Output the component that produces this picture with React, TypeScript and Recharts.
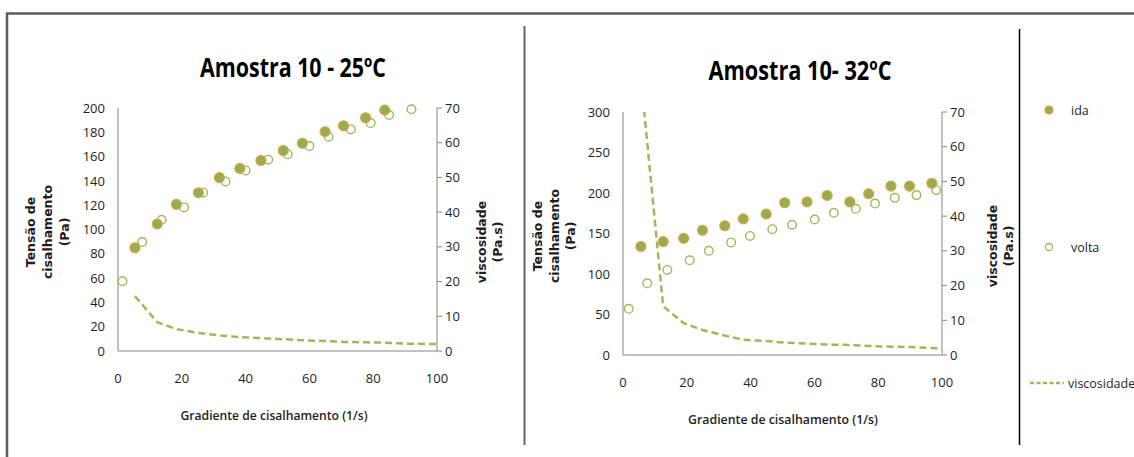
import { Scatter, ScatterChart, XAxis, YAxis } from 'recharts'

// Amostra 10 - 25ºC
const idaX25 = [5.3, 12.3, 18.3, 25.2, 31.8, 38.2, 44.8, 51.8, 57.8, 64.9, 70.7, 77.6, 83.6]
const idaY25 = [85, 104.5, 120.7, 130.3, 142.7, 150.3, 156.8, 165, 171, 180.5, 185.4, 192, 198.3]
const voltaX25 = [1.4, 7.6, 13.7, 20.7, 26.7, 33.7, 40, 47.1, 53.2, 60, 66, 73, 79.2, 85, 92]
const voltaY25 = [57.4, 89.7, 108, 118.2, 130.5, 139.6, 148.6, 157.5, 161.9, 168.7, 176.4, 182.4, 187.6, 194.2, 198.9]
const viscX25 = [5.3, 12.3, 18.3, 25.2, 31.8, 38.2, 44.8, 51.8, 57.8, 64.9, 70.7, 77.6, 83.6, 90, 100]
const viscY25 = [15.8, 8.3, 6.3, 5.2, 4.5, 4.0, 3.7, 3.4, 3.1, 2.9, 2.6, 2.5, 2.4, 2.1, 2.0]

// Amostra 10 - 32ºC
const idaX32 = [5.6, 12.6, 19, 24.9, 31.9, 37.7, 44.9, 50.7, 57.7, 64, 71.1, 77, 84, 89.8, 96.8]
const idaY32 = [134, 140, 144, 154, 159.5, 168, 174, 188, 189, 197, 189, 199, 208.5, 208.5, 212]
const voltaX32 = [1.8, 7.6, 13.9, 20.9, 26.9, 33.9, 39.8, 46.8, 53, 60.1, 66.1, 73, 79, 85.2, 92, 98.2]
const voltaY32 = [57, 88.5, 105, 117, 128.6, 139, 147, 155.3, 160.7, 167.3, 175.6, 180.5, 187, 194, 197.4, 203.5]
const viscX32 = [5.6, 12.6, 19, 24.9, 31.9, 37.7, 44.9, 50.7, 57.7, 64, 71.1, 77, 84, 89.8, 96.8, 100]
const viscY32 = [80, 14, 9.2, 7.2, 5.6, 4.4, 4.0, 3.6, 3.3, 3.0, 2.9, 2.6, 2.4, 2.3, 2.0, 1.8]

const xTicks = [0, 20, 40, 60, 80, 100]
const yTicks25 = [0, 20, 40, 60, 80, 100, 120, 140, 160, 180, 200]
const yTicks32 = [0, 50, 100, 150, 200, 250, 300]
const viscTicks = [0, 10, 20, 30, 40, 50, 60, 70]

const GREEN = '#9bbb59'
const DOT_GREEN = '#8fb14f'
const ORANGE = '#f79646'
const AXIS = '#868686'
const TXT = '#1e1e1e'
const tickStyle = { fontSize: 13, fill: TXT, fontFamily: 'Open Sans' }

const pts = (xs: number[], ys: number[]) => xs.map((x, i) => ({ x, y: ys[i] }))

const IdaDot = (p: any) => <circle cx={p.cx} cy={p.cy} r={5} fill={DOT_GREEN} stroke={ORANGE} strokeWidth={1.1} />
const VoltaDot = (p: any) => <circle cx={p.cx} cy={p.cy} r={4.3} fill="#fff" stroke={GREEN} strokeWidth={1.4} />
const NoDot = () => null

interface PanelProps {
  left: number
  top: number
  ida: { x: number; y: number }[]
  volta: { x: number; y: number }[]
  visc: { x: number; y: number }[]
  yMax: number
  yTicks: number[]
}

function Panel({ left, top, ida, volta, visc, yMax, yTicks }: PanelProps) {
  return (
    <div style={{ position: 'absolute', left, top: 0 }}>
      <ScatterChart width={520} height={457} margin={{ top, right: 43, bottom: 457 - top - 243 - 30, left: 78 }}>
        <XAxis
          type="number"
          dataKey="x"
          domain={[0, 100]}
          ticks={xTicks}
          height={30}
          tickLine={false}
          tickSize={0}
          tickMargin={23}
          axisLine={{ stroke: AXIS }}
          tick={tickStyle}
        />
        <YAxis
          yAxisId="l"
          type="number"
          dataKey="y"
          domain={[0, yMax]}
          ticks={yTicks}
          width={40}
          tickLine={false}
          tickMargin={7}
          axisLine={{ stroke: AXIS }}
          tick={tickStyle}
        />
        <YAxis
          yAxisId="r"
          orientation="right"
          type="number"
          dataKey="y"
          domain={[0, 70]}
          allowDataOverflow
          ticks={viscTicks}
          width={40}
          tickSize={5}
          tickMargin={3}
          tickLine={{ stroke: AXIS }}
          axisLine={{ stroke: AXIS }}
          tick={tickStyle}
        />
        <Scatter yAxisId="r" data={visc} fill={GREEN} shape={NoDot} line={{ stroke: GREEN, strokeWidth: 2.5, strokeDasharray: '7 4' }} lineType="joint" isAnimationActive={false} />
        <Scatter yAxisId="l" data={volta} shape={VoltaDot} isAnimationActive={false} />
        <Scatter yAxisId="l" data={ida} shape={IdaDot} isAnimationActive={false} />
      </ScatterChart>
    </div>
  )
}

function RotLabel({ lines, xs, cy, size }: { lines: string[]; xs: number[]; cy: number; size: number }) {
  return (
    <>
      {lines.map((t, i) => (
        <text
          key={t}
          x={xs[i]}
          y={cy}
          transform={`rotate(-90 ${xs[i]} ${cy})`}
          textAnchor="middle"
          dominantBaseline="central"
          fontFamily="DejaVu Sans"
          fontWeight="bold"
          fontSize={size}
          fill={TXT}
        >
          {t}
        </text>
      ))}
    </>
  )
}

export default function App() {
  return (
    <div style={{ position: 'absolute', left: 0, top: 0, width: 1134, height: 457, background: '#fff', overflow: 'hidden' }}>
      <svg width={1134} height={457} style={{ position: 'absolute', left: 0, top: 0 }}>
        <line x1={6} y1={13.5} x2={1134} y2={13.5} stroke="#5a5a5a" strokeWidth={2.5} />
        <line x1={7} y1={13} x2={7} y2={457} stroke="#5a5a5a" strokeWidth={2.5} />
        <line x1={524.5} y1={26} x2={524.5} y2={445} stroke="#666" strokeWidth={2} />
        <line x1={1019.5} y1={29} x2={1019.5} y2={445} stroke="#000" strokeWidth={1.5} />

        <text x={293} y={77} textAnchor="middle" fontFamily="Open Sans" fontWeight="bold" fontSize={26} textLength={186} lengthAdjust="spacingAndGlyphs" fill="#000">
          Amostra 10 - 25ºC
        </text>
        <text x={800} y={80} textAnchor="middle" fontFamily="Open Sans" fontWeight="bold" fontSize={26} textLength={183} lengthAdjust="spacingAndGlyphs" fill="#000">
          Amostra 10- 32ºC
        </text>

        <text x={274} y={420} textAnchor="middle" fontFamily="Open Sans" fontWeight={600} fontSize={12.5} textLength={187} lengthAdjust="spacingAndGlyphs" fill={TXT}>
          Gradiente de cisalhamento  (1/s)
        </text>
        <text x={783} y={424} textAnchor="middle" fontFamily="Open Sans" fontWeight={600} fontSize={12.5} textLength={190} lengthAdjust="spacingAndGlyphs" fill={TXT}>
          Gradiente de cisalhamento  (1/s)
        </text>

        <RotLabel lines={['Tensão de', 'cisalhamento', '(Pa)']} xs={[30, 47, 64]} cy={232} size={12.5} />
        <RotLabel lines={['viscosidade', '(Pa.s)']} xs={[481, 497]} cy={242} size={12.5} />
        <RotLabel lines={['Tensão de', 'cisalhamento', '(Pa)']} xs={[537, 554, 570]} cy={236} size={12.5} />
        <RotLabel lines={['viscosidade', '(Pa.s)']} xs={[992, 1008]} cy={246} size={12.5} />

        <circle cx={1049} cy={110} r={4} fill={DOT_GREEN} stroke={ORANGE} strokeWidth={1.1} />
        <text x={1071} y={110} dominantBaseline="central" fontFamily="Open Sans" fontSize={12.5} fill={TXT}>ida</text>
        <circle cx={1049} cy={247} r={3.5} fill="#fff" stroke={GREEN} strokeWidth={1.3} />
        <text x={1071} y={247} dominantBaseline="central" fontFamily="Open Sans" fontSize={12.5} fill={TXT}>volta</text>
        <line x1={1030} y1={383} x2={1064} y2={383} stroke={GREEN} strokeWidth={2.5} strokeDasharray="4 2.5" />
        <text x={1068} y={383} dominantBaseline="central" fontFamily="Open Sans" fontSize={12.5} fill={TXT}>viscosidade</text>
      </svg>

      <Panel left={0} top={108} ida={pts(idaX25, idaY25)} volta={pts(voltaX25, voltaY25)} visc={pts(viscX25, viscY25)} yMax={200} yTicks={yTicks25} />
      <Panel left={505} top={112} ida={pts(idaX32, idaY32)} volta={pts(voltaX32, voltaY32)} visc={pts(viscX32, viscY32)} yMax={300} yTicks={yTicks32} />
    </div>
  )
}
